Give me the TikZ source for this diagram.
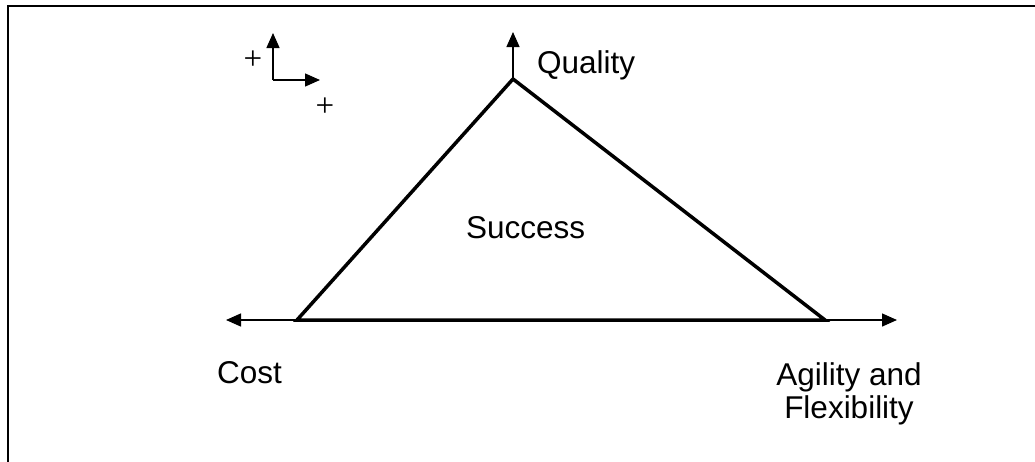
\documentclass[tikz,border=0pt]{standalone}
\usepackage{fontspec}
\setmainfont{Liberation Sans}
\newfontfamily\plusfont{Liberation Serif}
\usetikzlibrary{arrows.meta}
\begin{document}
\begin{tikzpicture}[x=1pt,y=-1pt,
  lbl/.style={inner sep=0pt,font=\fontsize{31.5}{33}\selectfont},
  plus/.style={inner sep=0pt,font=\plusfont\fontsize{33}{33}\selectfont},
  axis/.style={line width=1.4pt,-{Triangle[length=15pt,width=13pt]}},
  tri/.style={line width=3.5pt,line join=miter}]
\useasboundingbox (0,0) rectangle (1035,461);
\fill[white] (0,0) rectangle (1035,461);
% partial frame
\draw[line width=2pt] (1036,6) -- (8,6) -- (8,462);
% triangle corners
\coordinate (apex) at (513,79);
\coordinate (bl) at (297,320);
\coordinate (br) at (825,320);
\coordinate (qtip) at (513,32);
\coordinate (ctip) at (226,320);
\coordinate (atip) at (897,320);
% axes arrows
\draw[axis] (apex) -- (qtip);
\draw[axis] (bl) -- (ctip);
\draw[axis] (br) -- (atip);
\draw[tri] (apex) -- (bl) -- (br) -- cycle;
% small legend axes
\coordinate (o) at (273,80);
\coordinate (up) at (273,33);
\coordinate (rt) at (320,80);
\draw[axis] (o) -- (up);
\draw[axis] (o) -- (rt);
\node[plus] (p1) at (253,60) {+};
\node[plus] (p2) at (325,107) {+};
% labels
\node[lbl,anchor=base west] (q) at (537,73) {Quality};
\node[lbl,anchor=base west] (s) at (466,238) {Success};
\node[lbl,anchor=base west] (c) at (217,383) {Cost};
\node[lbl,align=center,anchor=base] (a) at (849,418) {Agility and\\Flexibility};
\end{tikzpicture}
\end{document}
